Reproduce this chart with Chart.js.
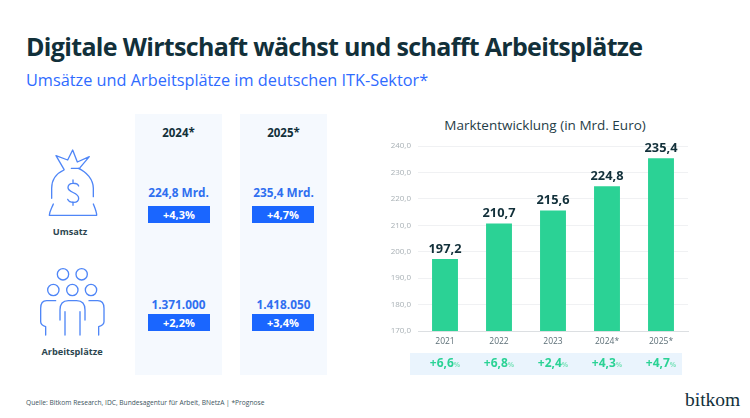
<!DOCTYPE html>
<html lang="de">
<head>
<meta charset="utf-8">
<script src="https://cdn.jsdelivr.net/npm/chart.js@4"></script>
<style>
html, body { margin: 0; padding: 0; background: #fff; }
body { width: 750px; height: 418px; position: relative; overflow: hidden; font-family: "Open Sans", sans-serif; color: #12303a; }
.t { position: absolute; white-space: nowrap; }
.c { text-align: center; }
.panel { position: absolute; top: 114px; height: 261px; width: 87px; background: #f5f9fe; }
.box { position: absolute; width: 62px; height: 17px; line-height: 17px; background: #1a66ff; color: #fff; font-size: 11px; font-weight: 700; text-align: center; }
.val { color: #2f6ff0; font-size: 11.8px; font-weight: 700; width: 87px; }
.head { font-size: 11.5px; font-weight: 700; width: 87px; }
.lab { font-size: 9.2px; font-weight: 700; width: 120px; color: #2c4650; }
#strip { position: absolute; left: 410px; top: 353px; width: 272px; height: 22px; background: #eaf4fd; }
#wrap { position: absolute; left: 380px; top: 112px; width: 330px; height: 270px; }
svg { position: absolute; left: 0; top: 100px; }
svg * { fill: none; stroke: #4f86f7; stroke-width: 4; stroke-linecap: round; stroke-linejoin: round; }
</style>
</head>
<body>
<div class="t" style="left:26px;top:28px;font-size:25px;font-weight:700;line-height:36px;letter-spacing:-0.67px">Digitale Wirtschaft wächst und schafft Arbeitsplätze</div>
<div class="t" style="left:26px;top:69px;font-size:16.3px;line-height:22px;color:#2f6bff">Umsätze und Arbeitsplätze im deutschen ITK-Sektor*</div>

<div class="panel" style="left:135px"></div>
<div class="panel" style="left:240px"></div>
<div class="t c head" style="left:135px;top:125px">2024*</div>
<div class="t c head" style="left:240px;top:125px">2025*</div>
<div class="t c val" style="left:135px;top:184px">224,8 Mrd.</div>
<div class="t c val" style="left:240px;top:184px">235,4 Mrd.</div>
<div class="box" style="left:148px;top:206px">+4,3%</div>
<div class="box" style="left:252px;top:206px">+4,7%</div>
<div class="t c val" style="left:135px;top:296px">1.371.000</div>
<div class="t c val" style="left:240px;top:296px">1.418.050</div>
<div class="box" style="left:148px;top:314px">+2,2%</div>
<div class="box" style="left:252px;top:314px">+3,4%</div>
<div class="t c lab" style="left:10px;top:225px">Umsatz</div>
<div class="t c lab" style="left:12px;top:345px">Arbeitsplätze</div>

<svg width="340" height="280" viewBox="0 0 1020 840">
  <!-- Geldsack -->
  <path d="M192 208 L168 167 L203 180 L218 150 L232 186 L268 170 L240 203 M214 205 H240"/>
  <path d="M155 295 V265 C155 240 170 220 192 210 M280 290 V265 C280 240 260 215 235 205"/>
  <path d="M160 312 C155 325 148 335 148 346 H290 C290 335 285 325 280 312"/>
  <path d="M236 258 C232 248 205 245 204 262 C203 280 236 275 236 295 C236 312 208 310 203 298 M219 240 V248 M219 306 V316"/>
  <!-- Personen -->
  <circle cx="189" cy="523" r="17"/><circle cx="245" cy="523" r="17"/>
  <circle cx="160" cy="570" r="17"/><circle cx="217" cy="570" r="17"/><circle cx="273" cy="570" r="17"/>
  <path d="M195 705 V635 M180 660 V630 Q180 602 205 602 H230 Q255 602 255 630 V660 M240 705 V635"/>
  <path d="M167 602 H140 Q122 602 122 625 V665 Q122 675 137 680 V705"/>
  <path d="M267 602 H293 Q312 602 312 625 V665 Q312 675 296 680 V705"/>
</svg>

<div id="strip"></div>
<div class="t c" style="left:395px;top:115px;width:300px;font-size:13.5px;line-height:20px;color:#1f3d47">Marktentwicklung (in Mrd. Euro)</div>
<div id="wrap"><canvas id="marketChart"></canvas></div>

<div class="t" style="left:26px;top:398px;font-size:6.65px;line-height:10px;color:#3c5560">Quelle: Bitkom Research, IDC, Bundesagentur für Arbeit, BNetzA | *Prognose</div>
<div class="t" style="left:685px;top:388px;font-family:'Liberation Serif',serif;font-size:19.5px;line-height:24px;color:#12303a">bitkom</div>
<div style="position:absolute;left:696.5px;top:392.5px;width:2.2px;height:2.2px;border-radius:50%;background:#4f86f7"></div>

<script>
// Daten aus der Grafik
const categories = ['2021', '2022', '2023', '2024*', '2025*'];
const revenue = [197.2, 210.7, 215.6, 224.8, 235.4];
const growth = ['+6,6', '+6,8', '+2,4', '+4,3', '+4,7'];

const deNumber = v => v.toFixed(1).replace('.', ',');

// Werte über den Balken und Wachstum im Streifen darunter
const barLabels = {
    id: 'barLabels',
    afterDatasetsDraw(chart) {
        const ctx = chart.ctx;
        const meta = chart.getDatasetMeta(0);
        ctx.save();
        ctx.textBaseline = 'middle';
        meta.data.forEach((bar, i) => {
            ctx.textAlign = 'center';
            ctx.fillStyle = '#12303a';
            ctx.font = '700 12.8px "Open Sans"';
            ctx.fillText(deNumber(revenue[i]), bar.x, bar.y - 10);

            // Prozentzeichen kleiner und heller
            const bigFont = '700 12px "Open Sans"';
            const smallFont = '700 7px "Open Sans"';
            ctx.font = bigFont;
            const w1 = ctx.measureText(growth[i]).width;
            ctx.font = smallFont;
            const w2 = ctx.measureText('%').width;
            const left = bar.x - (w1 + w2) / 2;
            ctx.textAlign = 'left';
            ctx.font = bigFont;
            ctx.fillStyle = '#2bd295';
            ctx.fillText(growth[i], left, 252);
            ctx.font = smallFont;
            ctx.fillStyle = '#7fe3bd';
            ctx.fillText('%', left + w1, 253);
        });
        ctx.restore();
    },
};

const ctx = document.getElementById('marketChart').getContext('2d');
new Chart(ctx, {
    type: 'bar',
    data: {
        labels: categories,
        datasets: [{
            data: revenue,
            backgroundColor: '#2bd295',
            barPercentage: 0.48,
            categoryPercentage: 1,
        }],
    },
    options: {
        responsive: true,
        maintainAspectRatio: false,
        animation: false,
        layout: { padding: { top: 34, right: 22, bottom: 31 } },
        plugins: {
            legend: { display: false },
            tooltip: { enabled: false },
        },
        scales: {
            x: {
                afterFit(scale) { scale.height = 20; },
                grid: { display: false, drawTicks: false },
                border: { color: '#dcdfe2', width: 1 },
                ticks: { color: '#5d6f77', font: { family: 'Open Sans', size: 8.5 }, padding: 5, maxRotation: 0 },
            },
            y: {
                min: 170,
                max: 240,
                afterFit(scale) { scale.width = 38; },
                grid: { color: '#f0f1f3', drawTicks: false },
                border: { display: false },
                ticks: {
                    stepSize: 10,
                    padding: 7,
                    color: '#a8b0b5',
                    font: { family: 'Open Sans', size: 8 },
                    callback: v => deNumber(v),
                },
            },
        },
    },
    plugins: [barLabels],
});
</script>
</body>
</html>
